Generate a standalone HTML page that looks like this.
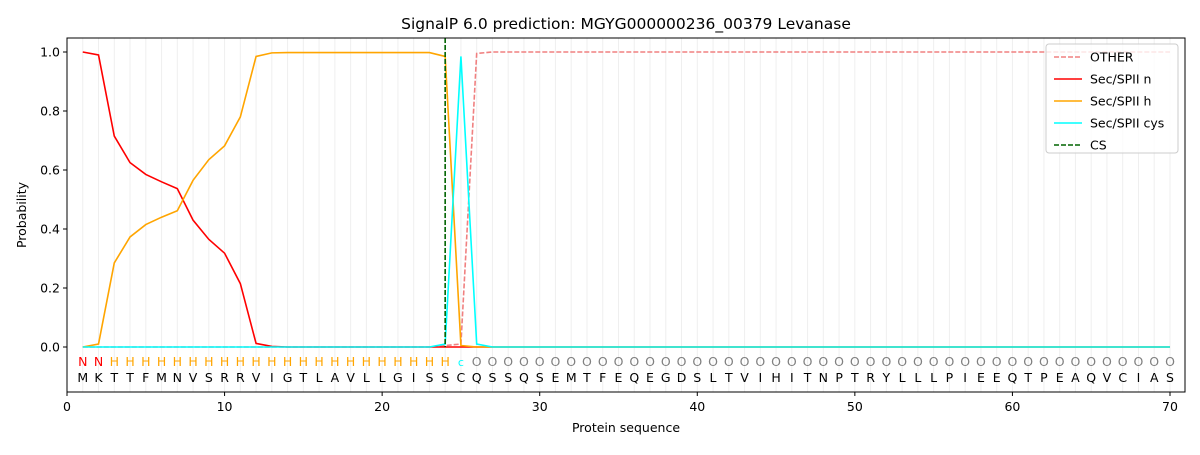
<!DOCTYPE html>
<html><head><meta charset="utf-8"><style>
body{margin:0;background:#fff}
text{font-family:"DejaVu Sans","Liberation Sans",sans-serif}
</style></head><body>
<svg id="chart" width="1200" height="450" xmlns="http://www.w3.org/2000/svg">
<rect width="1200" height="450" fill="#fff"/>
<text x="626" y="29" font-size="15.5" text-anchor="middle">SignalP 6.0 prediction: MGYG000000236_00379 Levanase</text>
<g id="grid"></g><g id="series"></g><g id="seq"></g><g id="axes"></g>
<g>
<rect x="1046" y="44" width="132" height="109" fill="#fff" fill-opacity="0.8" stroke="#ccc" rx="3"/>
<line x1="1054" y1="57" x2="1082" y2="57" stroke="#f08080" stroke-width="1.5" stroke-dasharray="5,2"/><text x="1090" y="61.5" font-size="12.5">OTHER</text>
<line x1="1054" y1="79" x2="1082" y2="79" stroke="#ff0000" stroke-width="1.5"/><text x="1090" y="83.5" font-size="12.5">Sec/SPII n</text>
<line x1="1054" y1="101" x2="1082" y2="101" stroke="#ffa500" stroke-width="1.5"/><text x="1090" y="105.5" font-size="12.5">Sec/SPII h</text>
<line x1="1054" y1="123" x2="1082" y2="123" stroke="#00ffff" stroke-width="1.5"/><text x="1090" y="127.5" font-size="12.5">Sec/SPII cys</text>
<line x1="1054" y1="145" x2="1082" y2="145" stroke="#006400" stroke-width="1.5" stroke-dasharray="5,2"/><text x="1090" y="149.5" font-size="12.5">CS</text>
</g>
</svg>
<script>
const residues="MKTTFMNVSRRVIGTLAVLLGISSCQSSQSEMTFEQEGDSLTVIHITNPTRYLLLPIEEQTPEAQVCIAS".split("");
const labels="NNHHHHHHHHHHHHHHHHHHHHHHCOOOOOOOOOOOOOOOOOOOOOOOOOOOOOOOOOOOOOOOOOOOOO".split("");
const nVals=[1.0,0.99,0.715,0.625,0.585,0.56,0.537,0.43,0.365,0.318,0.215,0.012,0.002];
const hVals=[0,0.01,0.285,0.373,0.415,0.44,0.462,0.565,0.635,0.682,0.78,0.985,0.997,0.998,0.998,0.998,0.998,0.998,0.998,0.998,0.998,0.998,0.998,0.985,0.005];
const cysVals=[0,0,0,0,0,0,0,0,0,0,0,0,0,0,0,0,0,0,0,0,0,0,0,0.01,0.985,0.01];
const otherVals=[0,0,0,0,0,0,0,0,0,0,0,0,0,0,0,0,0,0,0,0,0,0,0,0.005,0.01,0.995,1.0];
const csPos=24;
const xTicks=[0,10,20,30,40,50,60,70];
const yTicks=[0,0.2,0.4,0.6,0.8,1.0];
const NS="http://www.w3.org/2000/svg";
const X0=67,X1=1185,Y0=38,Y1=392;
const sx=v=>67+v*15.757, sy=v=>347-v*295;
function mk(tag,attrs,parent,txt){const e=document.createElementNS(NS,tag);for(const k in attrs)e.setAttribute(k,attrs[k]);if(txt!==undefined)e.textContent=txt;document.getElementById(parent).appendChild(e);return e;}
const N=residues.length;
function full(arr){const o=[];for(let i=0;i<N;i++)o.push(i<arr.length?arr[i]:arr[arr.length-1]);return o;}
function fullZero(arr){const o=[];for(let i=0;i<N;i++)o.push(i<arr.length?arr[i]:0);return o;}
for(let i=1;i<=N;i++){const g=mk('line',{x1:sx(i),x2:sx(i),y1:Y0,y2:Y1,stroke:'#efefef','stroke-width':1},'grid');

}
const series=[["other-line",full(otherVals),"#f08080","5,2"],["sec-spii-n-line",fullZero(nVals),"#ff0000",""],["sec-spii-h-line",fullZero(hVals),"#ffa500",""],["sec-spii-cys-line",fullZero(cysVals),"#00ffff",""]];
series.forEach(s=>{const pts=s[1].map((v,i)=>sx(i+1)+","+sy(v)).join(" ");
const p=mk('polyline',{points:pts,fill:'none',stroke:s[2],'stroke-width':1.6,'stroke-dasharray':s[3]},'series');

});
const cs=mk('line',{x1:sx(csPos),x2:sx(csPos),y1:Y0,y2:Y1-45,stroke:'#006400','stroke-width':1.6,'stroke-dasharray':'5,2'},'series');


const col={N:'#ff0000',H:'#ffa500',C:'#00ffff',O:'#808080'};
residues.forEach((r,i)=>{
const l=labels[i];
const t1=mk('text',{x:sx(i+1),y:366,'font-size':l==='C'?11:12.5,'text-anchor':'middle',fill:col[l]},'seq',l==='C'?'c':l);


const t2=mk('text',{x:sx(i+1),y:382,'font-size':12.5,'text-anchor':'middle',fill:'#000'},'seq',r);

});
const fr=mk('rect',{x:X0,y:Y0,width:X1-X0,height:Y1-Y0,fill:'none',stroke:'#000','stroke-width':1},'axes');


xTicks.forEach(v=>{mk('line',{x1:sx(v),x2:sx(v),y1:Y1,y2:Y1+4,stroke:'#000'},'axes');
const t=mk('text',{x:sx(v),y:411,'font-size':12.5,'text-anchor':'middle'},'axes',v);

});
yTicks.forEach(v=>{mk('line',{x1:X0-4,x2:X0,y1:sy(v),y2:sy(v),stroke:'#000'},'axes');
const t=mk('text',{x:X0-7,y:sy(v)+4.5,'font-size':12.5,'text-anchor':'end'},'axes',v.toFixed(1));

});
const xt=mk('text',{x:626,y:432,'font-size':12.5,'text-anchor':'middle'},'axes','Protein sequence');


const yt=mk('text',{x:26,y:215,'font-size':12.5,'text-anchor':'middle',transform:'rotate(-90 26 215)'},'axes','Probability');


</script>
</body></html>
